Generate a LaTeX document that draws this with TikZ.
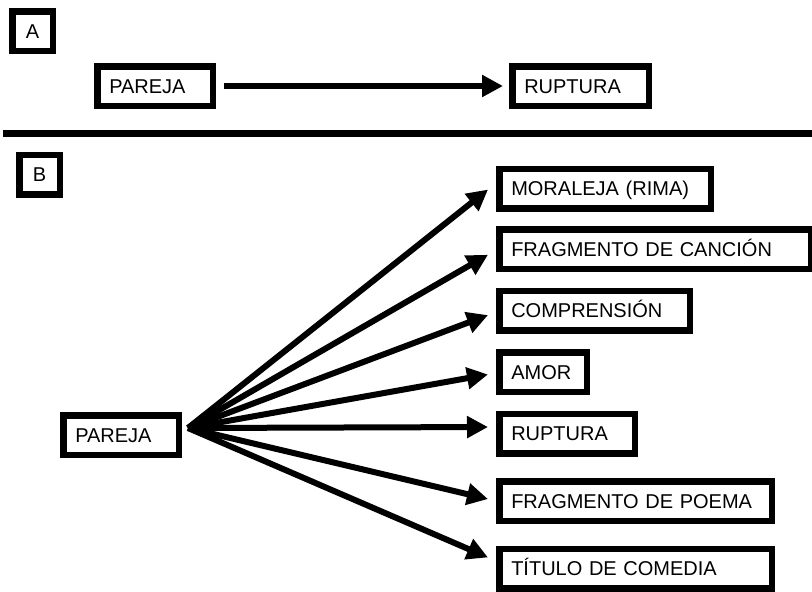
\documentclass[tikz,border=0pt]{standalone}
\usepackage{fontspec}
\setmainfont{Liberation Sans}
\usetikzlibrary{arrows.meta}
\begin{document}
\begin{tikzpicture}[x=1pt,y=-1pt,
  box/.style={draw, line width=6.5pt, minimum height=39.5pt, inner xsep=11.75pt, inner ysep=0pt,
    align=left, anchor=west, font=\fontsize{20pt}{24pt}\selectfont, text height=14.3pt, text depth=0pt},
  tag/.style={draw, line width=6.5pt, minimum width=40.5pt, minimum height=39.5pt, inner sep=0pt,
    font=\fontsize{20pt}{24pt}\selectfont, text height=14.3pt, text depth=0pt},
  arr/.style={line width=6pt, -{Triangle[length=21pt,width=21pt]}}]
\useasboundingbox (0,0) rectangle (812,592);

% Part A
\node[tag] (a) at (32.5,31) {A};
\node[box, text width=92pt] (p1) at (94.25,86) {PAREJA};
\node[box, text width=113pt] (r1) at (509.25,86) {RUPTURA};
\draw[arr, shorten <=7.25pt, shorten >=6.25pt] (p1.east) -- (r1.west);

% separator
\draw[line width=7pt] (3,133.5) -- (812,133.5);

% Part B
\node[tag] (b) at (39.5,174.5) {B};
\node[box, text width=92pt] (p2) at (60.25,435) {PAREJA};
\node[box, text width=188pt] (m1) at (496.25,188.5) {MORALEJA (RIMA)};
\node[box, text width=288pt] (m2) at (496.25,249) {FRAGMENTO DE CANCIÓN};
\node[box, text width=167pt] (m3) at (496.25,310.5) {COMPRENSIÓN};
\node[box, text width=64pt] (m4) at (496.25,372) {AMOR};
\node[box, text width=112pt] (m5) at (496.25,433.5) {RUPTURA};
\node[box, text width=249pt] (m6) at (496.25,501) {FRAGMENTO DE POEMA};
\node[box, text width=249pt] (m7) at (496.25,568.5) {TÍTULO DE COMEDIA};

\coordinate (hub) at (188,428);
\draw[arr, shorten >=10.5pt] (hub) -- ([yshift=5.5pt]m1.west);
\draw[arr, shorten >=9.5pt] (hub) -- ([yshift=-1pt]m2.west);
\draw[arr, shorten >=8.8pt] (hub) -- ([yshift=-1.5pt]m3.west);
\draw[arr, shorten >=8.4pt] (hub) -- ([yshift=-1pt]m4.west);
\draw[arr, shorten >=8.25pt] (hub) -- ([yshift=6.5pt]m5.west);
\draw[arr, shorten >=8.5pt] (hub) -- (m6.west);
\draw[arr, shorten >=9pt] (hub) -- ([yshift=7.5pt]m7.west);
\end{tikzpicture}
\end{document}
